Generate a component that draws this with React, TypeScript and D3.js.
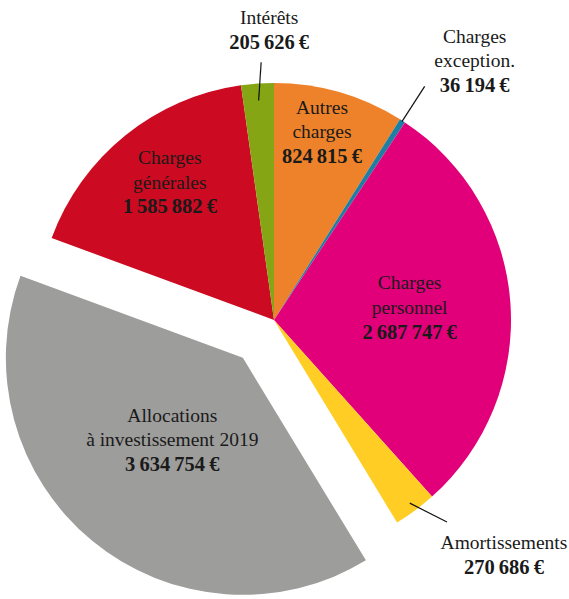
import React from 'react'
import * as d3 from 'd3'

// budget lines, clockwise from 12 o'clock
const names = [
  ['Autres', 'charges'],
  ['Charges', 'exception.'],
  ['Charges', 'personnel'],
  ['Amortissements'],
  ['Allocations', 'à investissement 2019'],
  ['Charges', 'générales'],
  ['Intérêts'],
]
const amounts = [824815, 36194, 2687747, 270686, 3634754, 1585882, 205626]
const colors = ['#ee822a', '#1e7fa3', '#e2007a', '#ffcd23', '#9d9d9c', '#cc0a21', '#85a515']

const W = 569
const H = 599
const cx = 274
const cy = 320
const R = 237

// label placement: inside labels at a radius, outside ones with a leader line
type Place = { inside: boolean; r: number; dx?: number; dy?: number; l0?: number; l1?: number; la?: number }
const places: Place[] = [
  { inside: true, r: 188, dx: -4, dy: -8 },
  { inside: false, r: 0, l0: 236, l1: 278, dx: 50, dy: -26 },
  { inside: true, r: 140, dx: -4, dy: -3 },
  { inside: false, r: 0, l0: 228, l1: 266, la: -0.07, dx: 57, dy: 32 },
  { inside: true, r: 160, dx: 0, dy: -4 },
  { inside: true, r: 166, dx: 0, dy: -9 },
  { inside: false, r: 0, l0: 220, l1: 258, la: 0.02, dx: 8, dy: -33 },
]

const fmt = (v: number) => d3.format(',')(v).replace(/,/g, '\u202f') + '\u202f€'

const App = () => {
  const pie = d3.pie<number>().sort(null).value(d => d)
  const arcs = pie(amounts)
  const arc = d3.arc<d3.PieArcDatum<number>>().innerRadius(0).outerRadius(R)
  const explode = 4 // the allocations slice is pulled out
  const pull = 49
  const polar = (a: number, r: number): [number, number] => [Math.sin(a) * r, -Math.cos(a) * r]

  const lh = 24.5
  const block = (i: number, tx: number, ty: number) => {
    const lines = names[i]
    const y0 = ty - (lines.length * lh) / 2
    return (
      <g transform={`translate(${tx},${y0})`} textAnchor="middle" fill="#1a1a1a">
        {lines.map((s, k) => (
          <text key={k} y={k * lh} dy="0.35em" fontFamily="Liberation Serif" fontSize={19.5}>{s}</text>
        ))}
        <text y={lines.length * lh} dy="0.35em" fontFamily="Liberation Serif" fontWeight="bold" fontSize={20.5} letterSpacing={0.3}>{fmt(amounts[i])}</text>
      </g>
    )
  }

  return (
    <svg width={W} height={H} style={{ position: 'absolute', left: 0, top: 0 }}>
      <g transform={`translate(${cx},${cy})`}>
        {arcs.map((a, i) => {
          const mid = (a.startAngle + a.endAngle) / 2
          const [ox, oy] = i === explode ? polar(mid, pull) : [0, 0]
          return (
            <path key={i} d={arc(a) || ''} fill={colors[i]} transform={`translate(${ox},${oy})`} />
          )
        })}
        {arcs.map((a, i) => {
          const p = places[i]
          const mid = (a.startAngle + a.endAngle) / 2
          if (p.inside) {
            const [x, y] = polar(mid, p.r)
            return <g key={i}>{block(i, x + (p.dx || 0), y + (p.dy || 0))}</g>
          }
          const [x0, y0] = polar(mid, p.l0 || R)
          const [x1, y1] = polar(mid + (p.la || 0), p.l1 || R)
          return (
            <g key={i}>
              <line x1={x0} y1={y0} x2={x1} y2={y1} stroke="#111" strokeWidth={1.2} />
              {block(i, x1 + (p.dx || 0), y1 + (p.dy || 0))}
            </g>
          )
        })}
      </g>
    </svg>
  )
}

export default App
